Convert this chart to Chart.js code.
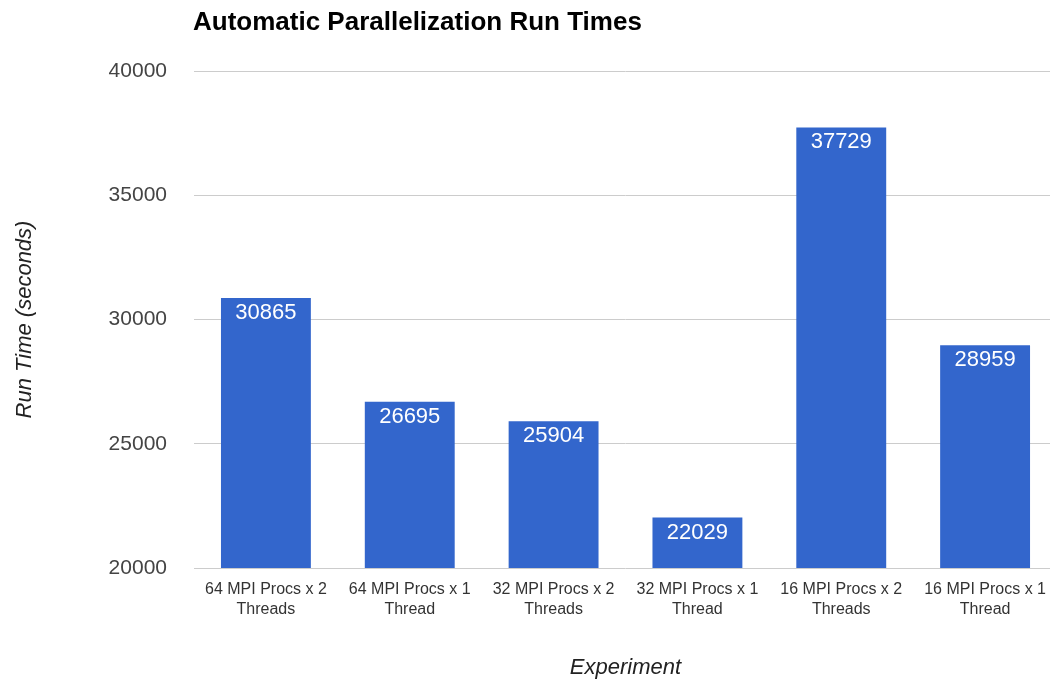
<!DOCTYPE html>
<html>
<head>
<meta charset="utf-8">
<script src="https://cdn.jsdelivr.net/npm/chart.js@4"></script>
<style>
  html, body { margin: 0; padding: 0; background: #fff; overflow: hidden; }
  #wrap { width: 1050px; height: 681px; overflow: hidden; }
</style>
</head>
<body>
<div id="wrap"><canvas id="runChart" width="1058" height="681"></canvas></div>
<script>
const FONT = '"Liberation Sans", Arial, sans-serif'

const chartTitle = "Automatic Parallelization Run Times"

const experiments = [
    ["64 MPI Procs x 2", "Threads"],
    ["64 MPI Procs x 1", "Thread"],
    ["32 MPI Procs x 2", "Threads"],
    ["32 MPI Procs x 1", "Thread"],
    ["16 MPI Procs x 2", "Threads"],
    ["16 MPI Procs x 1", "Thread"]
]

const runTimes = [30865, 26695, 25904, 22029, 37729, 28959]

const yTicks = [20000, 25000, 30000, 35000, 40000]

// title drawn at top-left, aligned with plot area
const titlePlugin = {
    id: "leftTitle",
    afterDraw(chart) {
        const ctx = chart.ctx
        ctx.save()
        ctx.font = "bold 26px " + FONT
        ctx.fillStyle = "#000"
        ctx.textAlign = "left"
        ctx.textBaseline = "middle"
        ctx.fillText(chartTitle, 193, 23)
        ctx.restore()
    }
}

// value labels inside top of each bar
const valueLabels = {
    id: "valueLabels",
    afterDatasetsDraw(chart) {
        const ctx = chart.ctx
        const meta = chart.getDatasetMeta(0)
        ctx.save()
        ctx.font = "22px " + FONT
        ctx.fillStyle = "#fff"
        ctx.textAlign = "center"
        ctx.textBaseline = "middle"
        meta.data.forEach((bar, i) => {
            ctx.fillText(String(runTimes[i]), bar.x, bar.y + 15)
        })
        ctx.restore()
    }
}

new Chart(document.getElementById("runChart"), {
    type: "bar",
    data: {
        labels: experiments,
        datasets: [{
            data: runTimes,
            backgroundColor: "#3366CC",
            borderWidth: 0,
            barPercentage: 0.625,
            categoryPercentage: 1
        }]
    },
    options: {
        responsive: false,
        animation: false,
        devicePixelRatio: 1,
        layout: { padding: { top: 71, left: 0, right: 0, bottom: 0 } },
        plugins: {
            legend: { display: false },
            tooltip: { enabled: false }
        },
        scales: {
            x: {
                grid: { display: false, drawTicks: false },
                border: { display: false },
                ticks: {
                    color: "#333",
                    font: { family: FONT, size: 16, lineHeight: 1.25 },
                    padding: 12,
                    maxRotation: 0,
                    autoSkip: false
                },
                title: {
                    display: true,
                    text: "Experiment",
                    color: "#222",
                    font: { family: FONT, size: 22, style: "italic" },
                    padding: { top: 0, bottom: 0 }
                },
                afterFit(scale) { scale.height = 113 }
            },
            y: {
                min: 20000,
                max: 40000,
                grid: { color: "#cccccc", drawTicks: false },
                border: { display: false },
                afterBuildTicks(scale) {
                    scale.ticks = yTicks.map(v => ({ value: v }))
                },
                ticks: {
                    color: "#444",
                    font: { family: FONT, size: 21 },
                    padding: 27,
                    callback: v => String(v)
                },
                title: {
                    display: true,
                    text: "Run Time (seconds)",
                    color: "#222",
                    font: { family: FONT, size: 22, style: "italic" },
                    padding: { top: 12, bottom: 0 }
                },
                afterFit(scale) { scale.width = 194 }
            }
        }
    },
    plugins: [titlePlugin, valueLabels]
})
</script>
</body>
</html>
